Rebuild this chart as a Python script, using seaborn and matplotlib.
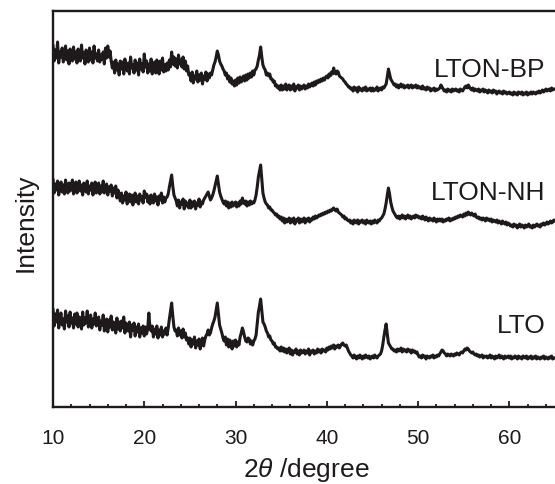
"""
XRD patterns of LTO, LTON-NH and LTON-BP
"""

import numpy as np
import pandas as pd
import matplotlib
matplotlib.use('Agg')
import matplotlib.pyplot as plt
from matplotlib.ticker import MultipleLocator
import seaborn as sns

sns.set_style("ticks")
plt.rcParams['font.family'] = ['Liberation Sans', 'DejaVu Sans']
plt.rcParams['mathtext.fontset'] = 'custom'
plt.rcParams['mathtext.rm'] = 'Liberation Sans'
plt.rcParams['mathtext.it'] = 'Liberation Sans:italic'

# 2theta grid, 10 to 65 degrees, 0.125 degree step (each row below = 2.5 degrees)
two_theta = np.arange(10, 65.001, 0.125)

# intensities (arbitrary units, curves already offset)
lton_bp = [
    362, 346, 357, 349, 365, 344, 355, 350, 359, 345, 353, 361, 347, 356, 343, 358, 351, 346, 360, 348,
    355, 344, 358, 350, 346, 362, 349, 354, 343, 357, 352, 345, 359, 347, 355, 344, 361, 349, 353, 346,
    357, 345, 352, 348, 355, 343, 359, 349, 361, 350, 356, 346, 339, 345, 334, 347, 337, 343, 332, 346,
    338, 345, 333, 348, 340, 336, 344, 333, 350, 339, 342, 334, 347, 337, 344, 332, 348, 338, 343, 335,
    353, 340, 346, 334, 343, 336, 348, 333, 341, 345, 334, 347, 339, 333, 346, 337, 349, 335, 342, 336,
    344, 337, 347, 340, 355, 343, 350, 341, 348, 339, 352, 343, 347, 340, 350, 338, 346, 336, 341, 332,
    333, 326, 335, 324, 331, 328, 336, 325, 332, 327, 334, 323, 331, 328, 335, 326, 333, 329, 334, 332,
    337, 342, 345, 350, 356, 352, 346, 343, 341, 338, 336, 332, 334, 328, 331, 325, 329, 323, 326, 321,
    327, 322, 329, 324, 330, 325, 328, 331, 326, 332, 327, 333, 329, 334, 330, 336, 332, 337, 338, 341,
    347, 352, 360, 350, 342, 339, 337, 332, 334, 331, 333, 328, 328, 325, 326, 321, 322, 319, 321, 317,
    322, 317, 321, 318, 323, 317, 320, 322, 317, 321, 318, 323, 316, 320, 319, 322, 317, 321, 318, 320,
    322, 318, 321, 319, 323, 320, 322, 324, 321, 325, 322, 326, 324, 327, 325, 328, 326, 329, 327, 330,
    331, 329, 333, 331, 335, 333, 339, 334, 333, 336, 335, 331, 330, 329, 328, 326, 325, 323, 322, 320,
    320, 318, 319, 316, 320, 317, 319, 315, 320, 317, 318, 316, 319, 317, 320, 316, 318, 317, 319, 316,
    319, 316, 318, 317, 320, 316, 318, 319, 317, 320, 319, 321, 323, 330, 338, 333, 328, 326, 324, 322,
    323, 320, 322, 319, 321, 323, 320, 322, 319, 321, 320, 322, 319, 321, 322, 319, 321, 320, 322, 319,
    321, 319, 320, 318, 321, 318, 319, 317, 320, 318, 319, 316, 318, 317, 319, 316, 318, 317, 318, 319,
    322, 320, 318, 316, 317, 315, 318, 316, 317, 315, 318, 316, 317, 318, 316, 317, 315, 318, 317, 316,
    318, 320, 321, 319, 322, 320, 318, 317, 319, 316, 318, 317, 316, 318, 315, 317, 316, 318, 315, 317,
    316, 314, 317, 315, 316, 314, 317, 315, 316, 313, 315, 316, 314, 315, 313, 316, 314, 315, 313, 314,
    315, 313, 314, 312, 315, 313, 314, 312, 315, 314, 313, 315, 312, 314, 313, 315, 312, 314, 313, 315,
    313, 315, 314, 313, 315, 314, 316, 314, 315, 317, 315, 316, 318, 316, 317, 318, 316, 319, 317, 318,
    318,
]
lton_nh = [
    228, 214, 223, 217, 226, 212, 220, 225, 215, 222, 213, 227, 218, 214, 224, 216, 221, 227, 213, 220,
    225, 214, 219, 226, 216, 222, 212, 224, 218, 215, 226, 213, 221, 217, 224, 212, 220, 225, 214, 219,
    224, 213, 221, 215, 226, 214, 219, 223, 212, 220, 216, 222, 211, 219, 214, 221, 209, 217, 212, 206,
    214, 204, 211, 207, 215, 203, 210, 213, 205, 212, 202, 209, 214, 205, 211, 203, 213, 207, 210, 204,
    216, 210, 213, 205, 211, 203, 212, 208, 204, 213, 206, 210, 202, 211, 207, 214, 204, 210, 205, 209,
    210, 213, 220, 226, 232, 221, 212, 209, 206, 201, 207, 199, 205, 203, 208, 198, 206, 201, 204, 199,
    207, 199, 205, 201, 206, 198, 204, 202, 208, 200, 205, 203, 207, 209, 211, 213, 215, 211, 207, 209,
    212, 216, 221, 226, 231, 223, 215, 211, 208, 205, 203, 206, 201, 205, 199, 204, 200, 205, 201, 203,
    205, 200, 204, 201, 206, 203, 209, 205, 203, 206, 201, 205, 202, 206, 203, 205, 204, 207, 212, 220,
    230, 236, 242, 228, 214, 209, 205, 203, 202, 199, 200, 197, 197, 195, 194, 192, 193, 190, 191, 188,
    190, 186, 189, 184, 188, 185, 187, 189, 184, 188, 185, 189, 183, 187, 186, 189, 184, 188, 185, 187,
    189, 184, 188, 186, 189, 185, 188, 187, 190, 188, 191, 189, 190, 192, 191, 193, 192, 194, 193, 195,
    194, 196, 195, 197, 196, 198, 199, 197, 196, 198, 195, 194, 193, 192, 190, 191, 188, 189, 187, 186,
    187, 184, 186, 183, 187, 185, 184, 187, 183, 186, 185, 187, 184, 186, 183, 187, 185, 184, 186, 183,
    186, 184, 187, 185, 184, 187, 186, 188, 189, 191, 193, 198, 204, 212, 219, 213, 205, 200, 196, 194,
    192, 190, 189, 191, 188, 190, 192, 189, 191, 188, 190, 192, 189, 191, 188, 190, 191, 189, 192, 190,
    191, 189, 190, 188, 191, 189, 187, 190, 188, 186, 189, 187, 188, 186, 189, 187, 185, 188, 186, 188,
    186, 188, 185, 187, 186, 188, 187, 189, 186, 188, 187, 189, 188, 190, 189, 191, 190, 192, 191, 190,
    193, 191, 194, 192, 195, 193, 192, 194, 192, 191, 193, 190, 189, 190, 188, 189, 187, 189, 188, 186,
    189, 187, 188, 186, 188, 185, 187, 186, 185, 187, 184, 186, 185, 183, 186, 184, 183, 185, 182, 184,
    183, 181, 182, 180, 183, 181, 182, 179, 181, 183, 180, 182, 181, 179, 182, 180, 181, 183, 180, 181,
    179, 182, 180, 181, 183, 181, 182, 180, 183, 182, 184, 182, 183, 185, 183, 184, 186, 184, 185, 187,
    186,
]
lto = [
    98, 81, 93, 85, 97, 79, 90, 94, 82, 88, 78, 96, 85, 91, 80, 95, 84, 89, 79, 93,
    83, 94, 80, 90, 86, 78, 95, 82, 89, 84, 96, 80, 87, 92, 79, 88, 83, 94, 81, 86,
    90, 77, 86, 82, 92, 76, 84, 88, 75, 87, 80, 91, 77, 85, 81, 74, 89, 78, 85, 76,
    86, 79, 90, 74, 84, 81, 76, 85, 70, 82, 77, 84, 71, 80, 75, 83, 70, 79, 74, 81,
    71, 80, 73, 78, 94, 79, 76, 81, 70, 78, 73, 81, 69, 77, 72, 80, 70, 76, 73, 79,
    72, 79, 88, 96, 104, 91, 80, 76, 77, 71, 79, 72, 76, 69, 78, 70, 74, 67, 69, 63,
    69, 60, 67, 63, 70, 59, 66, 62, 68, 58, 65, 69, 61, 67, 71, 73, 77, 72, 74, 79,
    83, 86, 90, 97, 104, 93, 82, 78, 74, 69, 66, 70, 62, 68, 60, 67, 63, 58, 66, 61,
    67, 60, 65, 62, 70, 74, 79, 75, 70, 66, 65, 69, 68, 63, 66, 62, 66, 68, 72, 83,
    95, 101, 108, 96, 85, 83, 80, 76, 74, 70, 71, 67, 66, 63, 64, 60, 60, 58, 59, 56,
    60, 56, 59, 55, 58, 54, 57, 59, 53, 57, 52, 56, 55, 58, 53, 56, 52, 57, 54, 55,
    57, 53, 56, 54, 58, 52, 56, 55, 57, 53, 56, 54, 58, 55, 57, 54, 58, 56, 57, 55,
    59, 57, 60, 58, 61, 59, 62, 58, 61, 60, 62, 59, 61, 63, 64, 62, 61, 62, 59, 56,
    54, 52, 51, 49, 52, 50, 48, 51, 49, 52, 50, 48, 51, 49, 52, 50, 49, 51, 48, 50,
    51, 49, 52, 50, 49, 51, 52, 53, 56, 62, 70, 77, 83, 73, 64, 62, 60, 58, 58, 56,
    57, 55, 58, 56, 57, 59, 55, 58, 56, 57, 55, 58, 56, 57, 54, 57, 55, 56, 54, 55,
    52, 50, 51, 49, 52, 50, 51, 48, 51, 50, 49, 51, 50, 52, 49, 51, 50, 52, 51, 53,
    55, 57, 56, 54, 53, 51, 53, 52, 51, 53, 52, 51, 53, 52, 54, 53, 52, 54, 55, 54,
    56, 58, 57, 59, 58, 56, 55, 54, 55, 53, 52, 53, 51, 52, 50, 51, 52, 49, 51, 50,
    51, 49, 50, 52, 49, 51, 50, 48, 51, 49, 50, 52, 49, 51, 50, 48, 51, 49, 50, 51,
    49, 51, 48, 50, 49, 51, 50, 48, 51, 49, 50, 48, 51, 50, 49, 51, 48, 50, 49, 51,
    48, 50, 49, 51, 48, 50, 49, 48, 50, 49, 51, 48, 50, 49, 48, 50, 49, 51, 48, 49,
    49,
]
samples = ['LTON-BP', 'LTON-NH', 'LTO']
# label anchor (2theta, intensity) for the sample names
label_x = [64.0, 64.0, 64.0]
label_y = [330, 207, 74]

df = pd.concat([
    pd.DataFrame({'two_theta': two_theta, 'intensity': vals, 'sample': name})
    for name, vals in zip(samples, [lton_bp, lton_nh, lto])
])

ink = '#1e1a1b'
fig = plt.figure(figsize=(5.55, 4.84), dpi=100)
ax = fig.add_axes([53 / 555, 1 - 407 / 484, 1 - 53 / 555, 396 / 484])

sns.lineplot(data=df, x='two_theta', y='intensity', hue='sample', units='sample',
             estimator=None, palette=[ink] * 3, linewidth=2.2, legend=False, ax=ax)

for name, tx, ty in zip(samples, label_x, label_y):
    ax.text(tx, ty, name, ha='right', va='baseline', fontsize=19, color=ink)

ax.set_xlim(10, 65)
ax.set_ylim(0, 396)
ax.set_yticks([])
ax.xaxis.set_major_locator(MultipleLocator(10))
ax.xaxis.set_minor_locator(MultipleLocator(2))
ax.tick_params(axis='x', which='major', direction='in', length=4.5, width=1.3,
               pad=16, labelsize=15, colors=ink)
ax.tick_params(axis='x', which='minor', direction='in', length=2.5, width=1.3, colors=ink)
ax.spines['right'].set_visible(False)
for side in ['left', 'top', 'bottom']:
    ax.spines[side].set_linewidth(1.7)
    ax.spines[side].set_color(ink)

ax.set_xlabel('')
ax.set_ylabel('')
fig.text(306 / 555, 1 - 477 / 484, r'$\mathit{2\theta}$ /degree', ha='center', va='baseline',
         fontsize=19, color=ink)
fig.text(26 / 555, 1 - 223 / 484, 'Intensity', rotation=90, ha='center', va='center',
         fontsize=19, color=ink)

fig.savefig('out.png', dpi=100)
